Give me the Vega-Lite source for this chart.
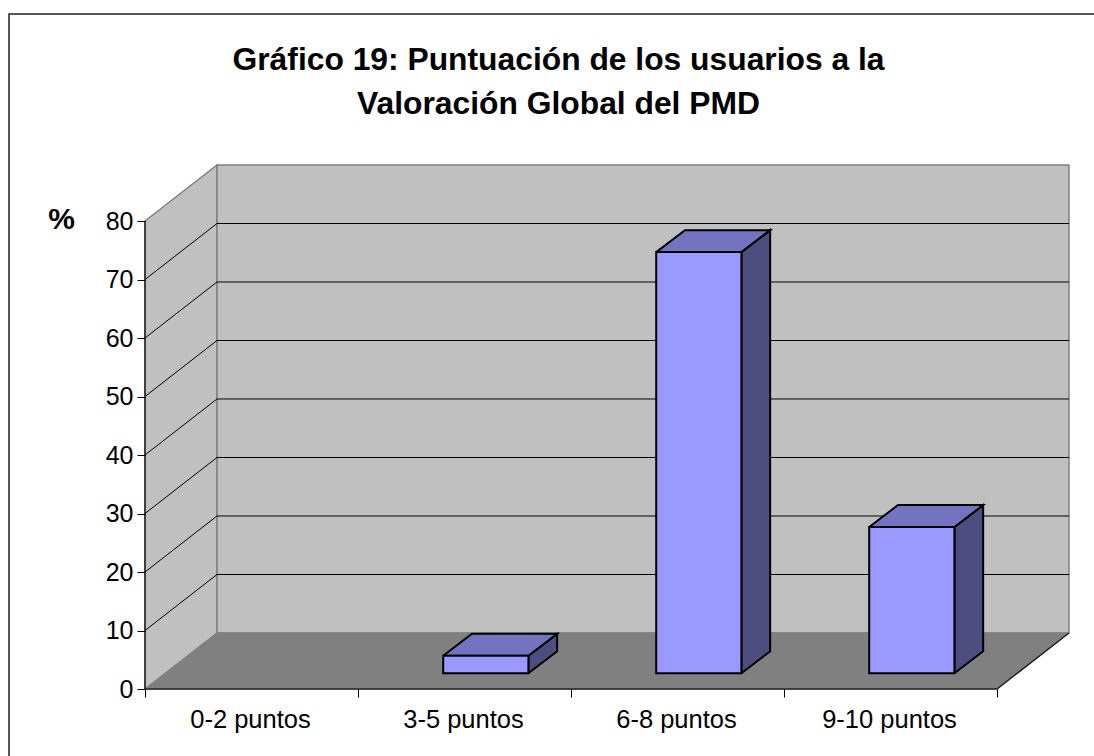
{"$schema":"https://vega.github.io/schema/vega-lite/v6.json","width":1085,"height":742,"autosize":"none","padding":{"left":9,"top":14,"right":0,"bottom":0},"background":"white","view":{"stroke":null},
"title":{"text":["Gráfico 19: Puntuación de los usuarios a la","Valoración Global del PMD"],"font":"Liberation Sans","fontSize":31.8,"fontWeight":"bold","color":"black","anchor":"middle","dx":7,"offset":-110,"lineHeight":44},
"datasets":{"bars":[{"category":"0-2 puntos","pos":0,"value":0},{"category":"3-5 puntos","pos":1,"value":3},{"category":"6-8 puntos","pos":2,"value":72},{"category":"9-10 puntos","pos":3,"value":25}],
"side":[{"x":0,"y":0,"o":0},{"x":0,"y":80,"o":1},{"x":0.338,"y":89.573,"o":2},{"x":0.338,"y":9.573,"o":3},{"x":0,"y":0,"o":4}],
"back":[{"x":0.338,"y":9.573,"o":0},{"x":0.338,"y":89.573,"o":1},{"x":4.338,"y":89.573,"o":2},{"x":4.338,"y":9.573,"o":3},{"x":0.338,"y":9.573,"o":4}],
"floor":[{"x":0,"y":0,"o":0},{"x":4,"y":0,"o":1},{"x":4.338,"y":9.573,"o":2},{"x":0.338,"y":9.573,"o":3},{"x":0,"y":0,"o":4}],
"grid":[{"tick":10},{"tick":20},{"tick":30},{"tick":40},{"tick":50},{"tick":60},{"tick":70}],
"frame":[{"id":"a","x":-0.6385,"y":-11.453,"o":0},{"id":"a","x":-0.6385,"y":115.385,"o":1},{"id":"a","x":4.4554,"y":115.385,"o":2},
{"id":"b","x":0,"y":80,"o":0},{"id":"b","x":0,"y":0,"o":1},{"id":"b","x":4,"y":0,"o":2},{"id":"b","x":4.338,"y":9.573,"o":3}]},
"encoding":{"x":{"field":"x","type":"quantitative","scale":{"domain":[-0.6385,4.4554],"nice":false,"zero":false},"axis":{"orient":"bottom","offset":-67,"values":[0,1,2,3,4],"labels":false,"domain":false,"grid":false,"tickSize":8,"tickColor":"black","tickWidth":1,"title":null,"zindex":1}},"y":{"field":"y","type":"quantitative","scale":{"domain":[-11.453,115.385],"nice":false,"zero":false},"axis":{"orient":"left","offset":-136,"values":[0,10,20,30,40,50,60,70,80],"domain":false,"grid":false,"tickSize":8,"tickColor":"black","tickWidth":1,"labelFont":"Liberation Sans","labelFontSize":25,"labelColor":"black","labelPadding":4,"title":"%","titleFont":"Liberation Sans","titleFontSize":30,"titleFontWeight":"bold","titleColor":"black","titleAngle":0,"titleX":-84,"titleY":205,"titleBaseline":"middle","titleAlign":"center","zindex":1}},"order":{"field":"o","type":"quantitative"}},
"layer":[
{"data":{"name":"side"},"mark":{"type":"line","fill":"#C0C0C0","stroke":"#808080","strokeWidth":1.5,"interpolate":"linear"}},
{"data":{"name":"back"},"mark":{"type":"line","fill":"#C0C0C0","stroke":"#808080","strokeWidth":1.5}},
{"data":{"name":"floor"},"mark":{"type":"line","fill":"#808080","stroke":"#808080","strokeWidth":1}},
{"data":{"name":"grid"},"transform":[{"calculate":"[0,0.338,4.338]","as":"x"},{"calculate":"[datum.tick,datum.tick+9.573,datum.tick+9.573]","as":"y"},{"calculate":"[0,1,2]","as":"o"},{"flatten":["x","y","o"]}],"mark":{"type":"line","stroke":"black","strokeWidth":1},"encoding":{"detail":{"field":"tick"}}},
{"data":{"name":"frame"},"mark":{"type":"line","stroke":"#222222","strokeWidth":1.5},"encoding":{"detail":{"field":"id"}}},
{"data":{"name":"bars"},"transform":[{"filter":"datum.value>0"},{"calculate":"datum.pos+0.4","as":"l"},{"calculate":"datum.pos+0.8","as":"r"},{"calculate":"[datum.r,datum.r,datum.r+0.135,datum.r+0.135,datum.r]","as":"x"},{"calculate":"[2.68,2.68+datum.value,6.44+datum.value,6.44,2.68]","as":"y"},{"calculate":"[0,1,2,3,4]","as":"o"},{"flatten":["x","y","o"]}],"mark":{"type":"line","fill":"#4D4D80","stroke":"black","strokeWidth":2},"encoding":{"detail":{"field":"category"}}},
{"data":{"name":"bars"},"transform":[{"filter":"datum.value>0"},{"calculate":"datum.pos+0.4","as":"l"},{"calculate":"datum.pos+0.8","as":"r"},{"calculate":"[datum.l,datum.r,datum.r+0.135,datum.l+0.135,datum.l]","as":"x"},{"calculate":"[2.68+datum.value,2.68+datum.value,6.44+datum.value,6.44+datum.value,2.68+datum.value]","as":"y"},{"calculate":"[0,1,2,3,4]","as":"o"},{"flatten":["x","y","o"]}],"mark":{"type":"line","fill":"#7373BF","stroke":"black","strokeWidth":2},"encoding":{"detail":{"field":"category"}}},
{"data":{"name":"bars"},"transform":[{"filter":"datum.value>0"},{"calculate":"datum.pos+0.4","as":"x"},{"calculate":"datum.pos+0.8","as":"x2"},{"calculate":"2.68","as":"y"},{"calculate":"2.68+datum.value","as":"y2"}],"mark":{"type":"bar","fill":"#9999FF","stroke":"black","strokeWidth":2},"encoding":{"x2":{"field":"x2"},"y2":{"field":"y2"},"order":{"value":null}}},
{"data":{"name":"bars"},"transform":[{"calculate":"datum.pos+0.5","as":"x"},{"calculate":"0","as":"y"}],"mark":{"type":"text","font":"Liberation Sans","fontSize":25.5,"dy":31,"dx":-1,"baseline":"middle","align":"center","color":"black"},"encoding":{"text":{"field":"category"},"order":{"value":null}}}
],"resolve":{"scale":{"x":"shared","y":"shared"}}}
